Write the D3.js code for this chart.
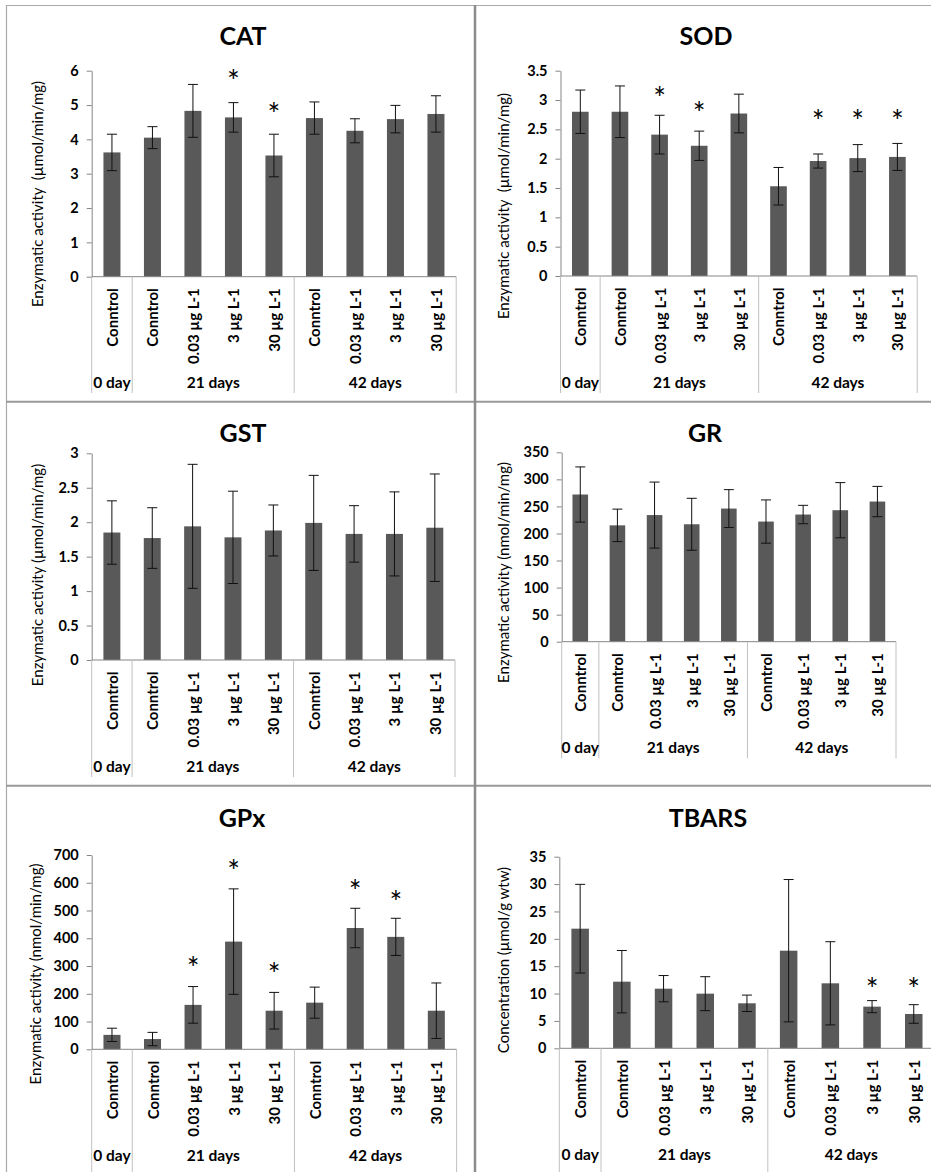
<!DOCTYPE html>
<html>
<head>
<meta charset="utf-8">
<script src="https://cdn.jsdelivr.net/npm/d3@7"></script>
<style>
  body { margin: 0; background: #fff; }
  svg { display: block; font-family: Lato, 'Open Sans', sans-serif; }
</style>
</head>
<body>
<div id="viz"></div>
<script>
// shared categories
let categories = ['Conntrol', 'Conntrol', '0.03 µg L-1', '3 µg L-1', '30 µg L-1',
  'Conntrol', '0.03 µg L-1', '3 µg L-1', '30 µg L-1'];
let groups = ['0 day', '21 days', '42 days'];
let groupSizes = [1, 4, 4];

// CAT
let catMeans = [3.62, 4.05, 4.83, 4.64, 3.53, 4.62, 4.25, 4.59, 4.74];
let catErr = [0.53, 0.32, 0.77, 0.43, 0.62, 0.47, 0.35, 0.40, 0.53];
let catStars = [null, null, null, 5.87, 4.90, null, null, null, null];
let catTicks = [0, 1, 2, 3, 4, 5, 6];

// SOD
let sodMeans = [2.80, 2.80, 2.41, 2.22, 2.77, 1.53, 1.96, 2.01, 2.03];
let sodErr = [0.37, 0.44, 0.33, 0.25, 0.33, 0.32, 0.12, 0.23, 0.23];
let sodStars = [null, null, 3.14, 2.88, null, null, 2.74, 2.74, 2.74];
let sodTicks = [0, 0.5, 1, 1.5, 2, 2.5, 3, 3.5];

// GST
let gstMeans = [1.85, 1.77, 1.94, 1.78, 1.88, 1.99, 1.83, 1.83, 1.92];
let gstErr = [0.46, 0.44, 0.90, 0.67, 0.37, 0.69, 0.41, 0.61, 0.78];
let gstStars = [null, null, null, null, null, null, null, null, null];
let gstTicks = [0, 0.5, 1, 1.5, 2, 2.5, 3];

// GR
let grMeans = [272, 215, 234, 217, 246, 222, 235, 243, 259];
let grErr = [51, 30, 61, 48, 35, 40, 17, 51, 28];
let grStars = [null, null, null, null, null, null, null, null, null];
let grTicks = [0, 50, 100, 150, 200, 250, 300, 350];

// GPx
let gpxMeans = [52, 37, 160, 388, 139, 168, 437, 405, 139];
let gpxErr = [24, 24, 66, 190, 66, 56, 71, 67, 100];
let gpxStars = [null, null, 316, 664, 294, null, 592, 553, null];
let gpxTicks = [0, 100, 200, 300, 400, 500, 600, 700];

// TBARS
let tbarsMeans = [21.85, 12.17, 10.89, 9.98, 8.22, 17.83, 11.87, 7.61, 6.27];
let tbarsErr = [8.1, 5.7, 2.4, 3.1, 1.5, 13.0, 7.6, 1.1, 1.7];
let tbarsStars = [null, null, null, null, null, null, null, 11.87, 11.87];
let tbarsTicks = [0, 5, 10, 15, 20, 25, 30, 35];

const W = 931, H = 1172;

let svg = d3.select('#viz')
  .append('svg')
  .attr('width', W)
  .attr('height', H);

svg.append('rect')
  .attr('width', W)
  .attr('height', H)
  .attr('fill', '#fff');

// panel frame
svg.append('line').attr('x1', 6).attr('x2', W).attr('y1', 5.5).attr('y2', 5.5)
  .attr('stroke', '#aaa').attr('stroke-width', 1.2);
svg.append('line').attr('x1', 6.5).attr('x2', 6.5).attr('y1', 5).attr('y2', H)
  .attr('stroke', '#aaa').attr('stroke-width', 1.2);
[401.7, 785.7].forEach(yy => {
  svg.append('line').attr('x1', 6).attr('x2', W).attr('y1', yy).attr('y2', yy)
    .attr('stroke', '#999').attr('stroke-width', 2);
});
svg.append('line').attr('x1', 475).attr('x2', 475).attr('y1', 5).attr('y2', H)
  .attr('stroke', '#8c8c8c').attr('stroke-width', 2.5);

let panels = [
  { title: 'CAT', yTitle: 'Enzymatic activity  (µmol/min/mg)', means: catMeans, errs: catErr, stars: catStars, ticks: catTicks,
    x0: 91.7, x1: 456.2, yTop: 70.7, yZero: 276.7, titleX: 243, titleY: 45, yTitleX: 37, yTitleY: 194, bottom: 393 },
  { title: 'SOD', yTitle: 'Enzymatic activity  (µmol/min/mg)', means: sodMeans, errs: sodErr, stars: sodStars, ticks: sodTicks,
    x0: 560.5, x1: 917.2, yTop: 70.7, yZero: 276, titleX: 706, titleY: 45, yTitleX: 503, yTitleY: 206, bottom: 393 },
  { title: 'GST', yTitle: 'Enzymatic activity (µmol/min/mg)', means: gstMeans, errs: gstErr, stars: gstStars, ticks: gstTicks,
    x0: 91.7, x1: 455, yTop: 453.3, yZero: 660, titleX: 243, titleY: 441.7, yTitleX: 37, yTitleY: 575, bottom: 777 },
  { title: 'GR', yTitle: 'Enzymatic activity (nmol/min/mg)', means: grMeans, errs: grErr, stars: grStars, ticks: grTicks,
    x0: 561.7, x1: 896, yTop: 452.3, yZero: 641.7, titleX: 705, titleY: 441.7, yTitleX: 503, yTitleY: 572.5, bottom: 758.3 },
  { title: 'GPx', yTitle: 'Enzymatic activity (nmol/min/mg)', means: gpxMeans, errs: gpxErr, stars: gpxStars, ticks: gpxTicks,
    x0: 91.7, x1: 456.6, yTop: 855, yZero: 1049.3, titleX: 242, titleY: 826.7, yTitleX: 35, yTitleY: 974, bottom: H },
  { title: 'TBARS', yTitle: 'Concentration (µmol/g wtw)', means: tbarsMeans, errs: tbarsErr, stars: tbarsStars, ticks: tbarsTicks,
    x0: 559.3, x1: 934.6, yTop: 856.7, yZero: 1048.3, titleX: 708, titleY: 826.7, yTitleX: 503, yTitleY: 960, bottom: H }
];

panels.forEach(p => buildPanel(p));

function buildPanel(p) {
  let g = svg.append('g').attr('class', 'panel');

  let x = d3.scaleBand()
    .domain(d3.range(categories.length))
    .range([p.x0, p.x1])
    .paddingInner(0.58)
    .paddingOuter(0.29);

  let y = d3.scaleLinear()
    .domain([0, p.ticks[p.ticks.length - 1]])
    .range([p.yZero, p.yTop]);

  let step = x.step();
  let bw = x.bandwidth();

  // title
  g.append('text')
    .text(p.title)
    .attr('x', p.titleX)
    .attr('y', p.titleY)
    .attr('text-anchor', 'middle')
    .style('font-size', '25px')
    .style('font-weight', 'bold');

  // y axis title
  g.append('text')
    .text(p.yTitle)
    .attr('transform', `translate(${p.yTitleX},${p.yTitleY}) rotate(-90)`)
    .attr('text-anchor', 'middle')
    .attr('dominant-baseline', 'central')
    .style('font-size', '15px')
    .style('white-space', 'pre');

  // bars
  g.selectAll('rect.bar')
    .data(p.means)
    .join('rect')
    .attr('class', 'bar')
    .attr('x', (d, i) => x(i))
    .attr('y', d => y(d))
    .attr('width', bw)
    .attr('height', d => p.yZero - y(d))
    .attr('fill', '#595959');

  // error bars
  let eb = g.selectAll('g.err')
    .data(p.means)
    .join('g')
    .attr('class', 'err')
    .attr('stroke', '#111')
    .attr('stroke-width', 1);

  eb.append('line')
    .attr('x1', (d, i) => x(i) + bw / 2)
    .attr('x2', (d, i) => x(i) + bw / 2)
    .attr('y1', (d, i) => y(d - p.errs[i]))
    .attr('y2', (d, i) => y(d + p.errs[i]));

  [1, -1].forEach(s => {
    eb.append('line')
      .attr('x1', (d, i) => x(i) + bw / 2 - 5)
      .attr('x2', (d, i) => x(i) + bw / 2 + 5)
      .attr('y1', (d, i) => y(d + s * p.errs[i]))
      .attr('y2', (d, i) => y(d + s * p.errs[i]));
  });

  // significance stars
  g.selectAll('text.star')
    .data(p.stars.map((s, i) => ({ s, i })).filter(d => d.s != null))
    .join('text')
    .attr('class', 'star')
    .text('*')
    .attr('x', d => x(d.i) + bw / 2)
    .attr('y', d => y(d.s) + 17)
    .attr('text-anchor', 'middle')
    .attr('fill', '#000')
    .style('font-size', '30px');

  // y axis
  let yAxis = g.append('g')
    .attr('transform', `translate(${p.x0},0)`)
    .call(d3.axisLeft(y)
      .tickValues(p.ticks)
      .tickFormat(d3.format('~g'))
      .tickSize(5)
      .tickSizeOuter(0)
      .tickPadding(8));

  yAxis.select('.domain').attr('stroke', '#868686');
  yAxis.selectAll('.tick line').attr('stroke', '#868686');
  yAxis.selectAll('.tick text')
    .attr('fill', '#000')
    .style('font-family', 'Lato, sans-serif')
    .style('font-size', '14.5px')
    .style('font-weight', 'bold');

  // x axis line
  g.append('line')
    .attr('x1', p.x0)
    .attr('x2', p.x1)
    .attr('y1', p.yZero)
    .attr('y2', p.yZero)
    .attr('stroke', '#868686');

  // category labels
  g.selectAll('text.cat')
    .data(categories)
    .join('text')
    .attr('class', 'cat')
    .text(d => d)
    .attr('transform', (d, i) => `translate(${x(i) + bw / 2},${p.yZero + 11.5}) rotate(-90)`)
    .attr('text-anchor', 'end')
    .attr('dominant-baseline', 'central')
    .style('font-size', '15px')
    .style('font-weight', 'bold');

  // group dividers and labels
  let bounds = [0];
  groupSizes.forEach(n => bounds.push(bounds[bounds.length - 1] + n));

  g.selectAll('line.div')
    .data(bounds)
    .join('line')
    .attr('class', 'div')
    .attr('x1', d => p.x0 + d * step)
    .attr('x2', d => p.x0 + d * step)
    .attr('y1', p.yZero)
    .attr('y2', p.bottom)
    .attr('stroke', '#c0c0c0');

  g.selectAll('text.grp')
    .data(groups)
    .join('text')
    .attr('class', 'grp')
    .text(d => d)
    .attr('x', (d, i) => p.x0 + (bounds[i] + bounds[i + 1]) / 2 * step)
    .attr('y', p.yZero + 111.5)
    .attr('text-anchor', 'middle')
    .style('font-size', '15.5px')
    .style('font-weight', 'bold');
}
</script>
</body>
</html>
